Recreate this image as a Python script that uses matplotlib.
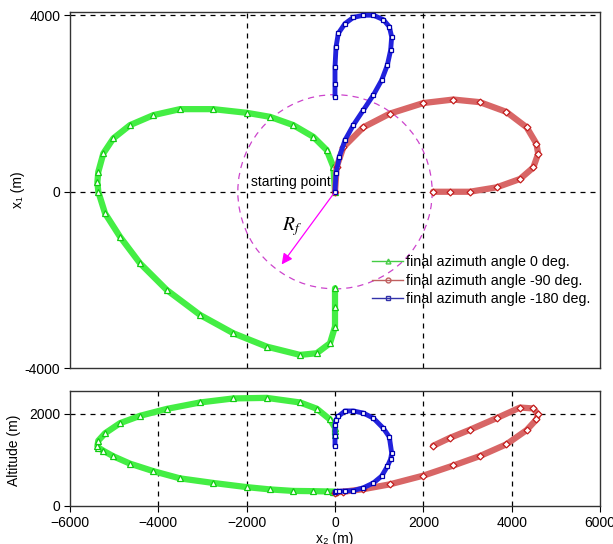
import matplotlib
matplotlib.use("Agg")
import matplotlib.pyplot as plt
from matplotlib.patches import Circle

plt.rcParams['font.family'] = ['Liberation Sans', 'DejaVu Sans']
plt.rcParams['font.size'] = 10
plt.rcParams['mathtext.fontset'] = 'stix'

# --- data (metres) ---
# final azimuth angle 0 deg.
green_x2 = [0, -38, -188, -491, -944, -1472, -2000, -2755, -3510, -4113, -4641, -5019,
            -5245, -5359, -5380, -5359, -5207, -4868, -4415, -3810, -3056, -2302, -1546,
            -792, -414, -113, 0, 0, 0]
green_x1 = [0, 566, 944, 1245, 1510, 1698, 1789, 1872, 1872, 1736, 1510, 1209,
            869, 453, 220, 0, -489, -1019, -1621, -2225, -2791, -3206, -3509,
            -3697, -3659, -3432, -3056, -2604, -2187]
green_alt = [312, 313, 316, 322, 327, 360, 410, 500, 600, 757, 920, 1080,
             1200, 1270, 1300, 1420, 1580, 1800, 1960, 2110, 2250, 2338, 2350,
             2250, 2115, 1880, 1700, 1620, 1547]

# final azimuth angle -90 deg.
red_x2 = [0, 38, 190, 640, 1240, 2000, 2680, 3280, 3880, 4340, 4560, 4600, 4490,
          4190, 3660, 3050, 2600, 2220]
red_x1 = [0, 566, 1010, 1460, 1770, 2010, 2090, 2030, 1810, 1460, 1090, 860, 550,
          290, 100, 0, 0, 0]
red_alt = [290, 295, 310, 365, 470, 660, 880, 1085, 1340, 1650, 1880, 1990, 2120,
           2140, 1910, 1655, 1480, 1307]

# final azimuth angle -180 deg.
blue_x2 = [0, 23, 98, 226, 415, 641, 868, 1057, 1185, 1260, 1283, 1230, 1094, 868,
           641, 415, 226, 75, 23, 0, 0, 0]
blue_x1 = [0, 415, 790, 1170, 1510, 1850, 2190, 2530, 2870, 3210, 3510, 3740, 3900,
           4000, 4000, 3950, 3810, 3590, 3280, 2830, 2450, 2150]
blue_alt = [312, 315, 320, 326, 335, 395, 500, 650, 860, 1020, 1150, 1500, 1690,
            1910, 2020, 2065, 2065, 1947, 1870, 1765, 1530, 1293]

R_F = 2200
ARROW_TIP = (-1245, -1698)

labels = ['final azimuth angle 0 deg.', 'final azimuth angle -90 deg.',
          'final azimuth angle -180 deg.']

# band colour, marker edge colour
GREEN = ('#44EE44', '#11CC11')
RED = ('#D86666', '#C41E1E')
BLUE = ('#2222DD', '#0000B0')


def draw_track(ax, x, y, cols, marker, ms, lw, z):
    ax.plot(x, y, color=cols[0], lw=lw, solid_capstyle='round', zorder=z)
    ax.plot(x, y, ls='none', marker=marker, ms=ms, mfc='white', mec=cols[1], mew=0.9, zorder=z)


fig = plt.figure(figsize=(6.13, 5.44), dpi=100)
ax1 = fig.add_axes([0.1142, 0.3230, 0.8646, 0.6555])
ax2 = fig.add_axes([0.1142, 0.0699, 0.8646, 0.2114])

# top panel: ground track
draw_track(ax1, green_x2, green_x1, GREEN, '^', 4.5, 4.5, 3)
draw_track(ax1, red_x2, red_x1, RED, 'D', 3.5, 4.5, 3)
draw_track(ax1, blue_x2, blue_x1, BLUE, 's', 3.5, 3.5, 4)

ax1.add_patch(Circle((0, 0), R_F, fill=False, ls=(0, (5, 4)), ec='#CC44CC', lw=0.9, zorder=2))
ax1.annotate('', xy=ARROW_TIP, xytext=(0, 0),
             arrowprops=dict(arrowstyle='-|>', color='#FF00FF', lw=0.9, mutation_scale=16),
             zorder=5)
ax1.text(-980, -792, r'$R_f$', fontsize=14, ha='center', va='center')
ax1.text(-90, 220, 'starting point', ha='right', va='center', fontsize=10)

for v in [-2000, 2000]:
    ax1.axvline(v, color='black', ls=(0, (4, 4)), lw=0.9, zorder=1)
for h in [0, 4000]:
    ax1.axhline(h, color='black', ls=(0, (4, 4)), lw=0.9, zorder=1)

ax1.set_xlim(-6000, 6000)
ax1.set_ylim(-4000, 4080)
ax1.set_yticks([-4000, 0, 4000])
ax1.set_yticklabels(['-4000', '0', '4000'])
ax1.set_xticks([])
ax1.tick_params(axis='y', direction='out', length=4, pad=3)

# legend
handles = [
    plt.Line2D([], [], color='#44CC44', lw=1, marker='^', ms=3.5, mfc='none', mec='#44CC44'),
    plt.Line2D([], [], color='#C06060', lw=1, marker='o', ms=3.5, mfc='none', mec='#C06060'),
    plt.Line2D([], [], color='#3333AA', lw=1, marker='s', ms=3, mfc='none', mec='#3333AA'),
]
fig.legend(handles, labels, loc='upper left', bbox_to_anchor=(372 / 613, 1 - 255 / 544),
           frameon=False, fontsize=10.3, handlelength=2.2, handletextpad=0.2,
           labelspacing=0.32, borderpad=0, borderaxespad=0)

# bottom panel: altitude
draw_track(ax2, green_x2, green_alt, GREEN, '^', 4.5, 4.5, 3)
draw_track(ax2, red_x2, red_alt, RED, 'D', 3.5, 4.5, 3)
draw_track(ax2, blue_x2, blue_alt, BLUE, 's', 3.5, 3.5, 4)

for v in [-4000, -2000, 0, 2000, 4000]:
    ax2.axvline(v, color='black', ls=(0, (4, 4)), lw=0.9, zorder=1)
ax2.axhline(2000, color='black', ls=(0, (4, 4)), lw=0.9, zorder=1)

ax2.set_xlim(-6000, 6000)
ax2.set_ylim(0, 2500)
ax2.set_xticks([-6000, -4000, -2000, 0, 2000, 4000, 6000])
ax2.set_yticks([0, 2000])
ax2.tick_params(direction='out', length=4, pad=3)

for ax in (ax1, ax2):
    for s in ax.spines.values():
        s.set_color('#333333')
        s.set_linewidth(1)

fig.text(18 / 613, 1 - 190 / 544, 'x₁ (m)', rotation=90, ha='center', va='center', fontsize=10)
fig.text(14 / 613, 1 - 450 / 544, 'Altitude (m)', rotation=90, ha='center', va='center', fontsize=10)
fig.text(335 / 613, 1 - 532 / 544, 'x₂ (m)', ha='center', va='top', fontsize=10)

fig.savefig('out.png', dpi=100)
